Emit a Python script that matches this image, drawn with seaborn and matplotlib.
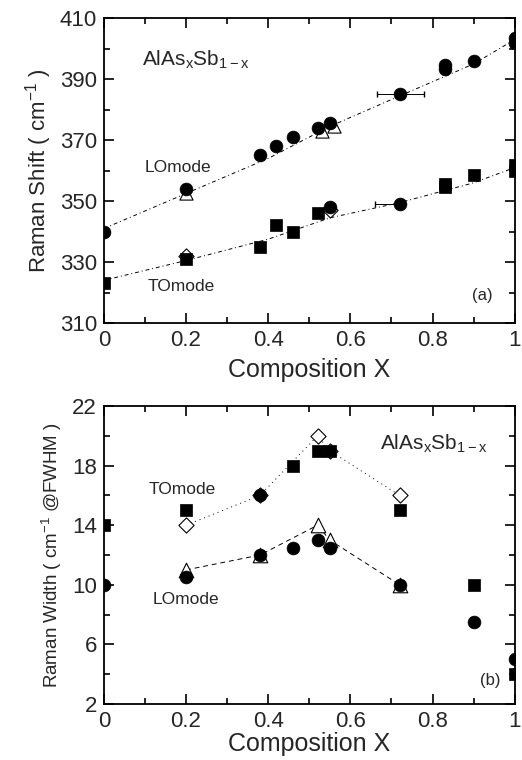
import numpy as np
import pandas as pd
import seaborn as sns
import matplotlib.pyplot as plt
from matplotlib.ticker import MultipleLocator, FixedLocator

# ---- panel (a): Raman shift ----
lo_x = [0.0, 0.2, 0.38, 0.42, 0.46, 0.52, 0.55, 0.72, 0.83, 0.83, 0.9, 1.0, 1.0]
lo_y = [340, 354, 365, 368, 371, 374, 375.5, 385, 393.5, 394.5, 396, 402, 403.5]
lo_tri_x = [0.2, 0.53, 0.56]
lo_tri_y = [352.5, 373, 374.5]
to_sq_x = [0.0, 0.2, 0.38, 0.42, 0.46, 0.52, 0.83, 0.83, 0.9, 1.0, 1.0]
to_sq_y = [323, 331, 335, 342, 340, 346, 354.5, 355.5, 358.5, 360, 362]
to_ci_x = [0.55, 0.72]
to_ci_y = [348, 349]
to_dia_x = [0.2, 0.55]
to_dia_y = [332, 347]
lo_fit_x = [0.0, 0.2, 0.4, 0.55, 0.72, 0.9, 1.0]
lo_fit_y = [341, 352.5, 364, 374.5, 384.5, 395, 403]
to_fit_x = [0.0, 0.2, 0.4, 0.55, 0.72, 0.9, 1.0]
to_fit_y = [324, 330.5, 337.5, 344.5, 349.5, 356, 361]
shift_ticks = [310, 330, 350, 370, 390, 410]

# ---- panel (b): Raman width ----
w_to_sq_x = [0.0, 0.2, 0.46, 0.52, 0.55, 0.72, 0.9, 1.0]
w_to_sq_y = [14, 15, 18, 19, 19, 15, 10, 4]
w_to_ci_x = [0.38]
w_to_ci_y = [16]
w_to_dia_x = [0.2, 0.38, 0.52, 0.55, 0.72]
w_to_dia_y = [14, 16, 20, 19, 16]
w_lo_ci_x = [0.0, 0.2, 0.38, 0.46, 0.52, 0.55, 0.72, 0.9, 1.0]
w_lo_ci_y = [10, 10.5, 12, 12.5, 13, 12.5, 10, 7.5, 5]
w_lo_tri_x = [0.2, 0.38, 0.52, 0.55, 0.72]
w_lo_tri_y = [11, 12, 14, 13, 10]
width_ticks = [2, 6, 10, 14, 18, 22]

x_ticks = [0, 0.2, 0.4, 0.6, 0.8, 1.0]
x_labels = ['0', '0.2', '0.4', '0.6', '0.8', '1']

sns.set_style("ticks")
plt.rcParams['font.family'] = ['Liberation Sans', 'DejaVu Sans']
plt.rcParams['mathtext.fontset'] = 'custom'
plt.rcParams['mathtext.rm'] = 'Liberation Sans'
plt.rcParams['mathtext.it'] = 'Liberation Sans'

fig = plt.figure(figsize=(5.22, 7.6), dpi=100)
ax1 = fig.add_axes([0.199, 0.575, 0.787, 0.401])
ax2 = fig.add_axes([0.199, 0.0737, 0.787, 0.392])

filled = dict(color='black', edgecolor='black', linewidth=0.5, zorder=3)
hollow = dict(facecolor='white', edgecolor='black', linewidth=0.8, zorder=2)

# panel a
sns.lineplot(x=lo_fit_x, y=lo_fit_y, ax=ax1, color='black', lw=0.7,
             linestyle=(0, (4, 3, 1, 3)))
sns.lineplot(x=to_fit_x, y=to_fit_y, ax=ax1, color='black', lw=0.7,
             linestyle=(0, (4, 3, 1, 3)))
sns.scatterplot(x=lo_tri_x, y=lo_tri_y, ax=ax1, marker='^', s=90, **hollow)
sns.scatterplot(x=to_dia_x, y=to_dia_y, ax=ax1, marker='D', s=60, **hollow)
sns.scatterplot(x=lo_x, y=lo_y, ax=ax1, marker='o', s=85, **filled)
sns.scatterplot(x=to_sq_x, y=to_sq_y, ax=ax1, marker='s', s=70, **filled)
sns.scatterplot(x=to_ci_x, y=to_ci_y, ax=ax1, marker='o', s=85, **filled)
ax1.errorbar([0.72], [385], xerr=[[0.055], [0.06]], fmt='none', ecolor='black',
             elinewidth=0.7, capsize=2)
ax1.errorbar([0.72], [349], xerr=[[0.06], [0.0]], fmt='none', ecolor='black',
             elinewidth=0.7, capsize=2)

ax1.set_xlim(0, 1)
ax1.set_ylim(310, 410)
ax1.set_xticks(x_ticks, x_labels)
ax1.xaxis.set_minor_locator(MultipleLocator(0.1))
ax1.yaxis.set_major_locator(FixedLocator(shift_ticks))
ax1.yaxis.set_minor_locator(MultipleLocator(10))
ax1.set_xlabel('Composition X', fontsize=18, labelpad=5)
ax1.set_ylabel('Raman Shift ( cm$^{-1}$ )', fontsize=16, labelpad=4)
ax1.text(0.094, 394.5, 'AlAs$_{x}$Sb$_{1-x}$', fontsize=15)
ax1.text(0.1, 361, 'LOmode', fontsize=12.5, va='center')
ax1.text(0.106, 322, 'TOmode', fontsize=12.5, va='center')
ax1.text(0.947, 319, '(a)', fontsize=12, va='center', ha='right')

# panel b
sns.lineplot(x=w_to_dia_x, y=w_to_dia_y, ax=ax2, color='black', lw=0.7,
             linestyle=(0, (1, 4)))
sns.lineplot(x=w_lo_tri_x, y=w_lo_tri_y, ax=ax2, color='black', lw=0.7,
             linestyle=(0, (5, 4)))
sns.scatterplot(x=w_to_dia_x, y=w_to_dia_y, ax=ax2, marker='D', s=60, **hollow)
sns.scatterplot(x=w_lo_tri_x, y=w_lo_tri_y, ax=ax2, marker='^', s=110, **hollow)
sns.scatterplot(x=w_to_sq_x, y=w_to_sq_y, ax=ax2, marker='s', s=70, **filled)
sns.scatterplot(x=w_to_ci_x, y=w_to_ci_y, ax=ax2, marker='o', s=85, **filled)
sns.scatterplot(x=w_lo_ci_x, y=w_lo_ci_y, ax=ax2, marker='o', s=85, **filled)

ax2.set_xlim(0, 1)
ax2.set_ylim(2, 22)
ax2.set_xticks(x_ticks, x_labels)
ax2.xaxis.set_minor_locator(MultipleLocator(0.1))
ax2.yaxis.set_major_locator(FixedLocator(width_ticks))
ax2.yaxis.set_minor_locator(MultipleLocator(2))
ax2.set_xlabel('Composition X', fontsize=18, labelpad=0)
ax2.set_ylabel('Raman Width ( cm$^{-1}$ @FWHM )', fontsize=13.5, labelpad=6)
ax2.text(0.672, 19.05, 'AlAs$_{x}$Sb$_{1-x}$', fontsize=15)
ax2.text(0.11, 16.4, 'TOmode', fontsize=12.5, va='center')
ax2.text(0.118, 9.0, 'LOmode', fontsize=12.5, va='center')
ax2.text(0.966, 3.6, '(b)', fontsize=12, va='center', ha='right')

for ax in (ax1, ax2):
    ax.tick_params(which='both', direction='in', top=True, right=True,
                   labelsize=16, width=1.2, color='black', pad=5)
    ax.tick_params(which='major', length=7)
    ax.tick_params(which='minor', length=4)
    for sp in ax.spines.values():
        sp.set_linewidth(1.3)
        sp.set_color('black')

fig.savefig('out.png', dpi=100)
